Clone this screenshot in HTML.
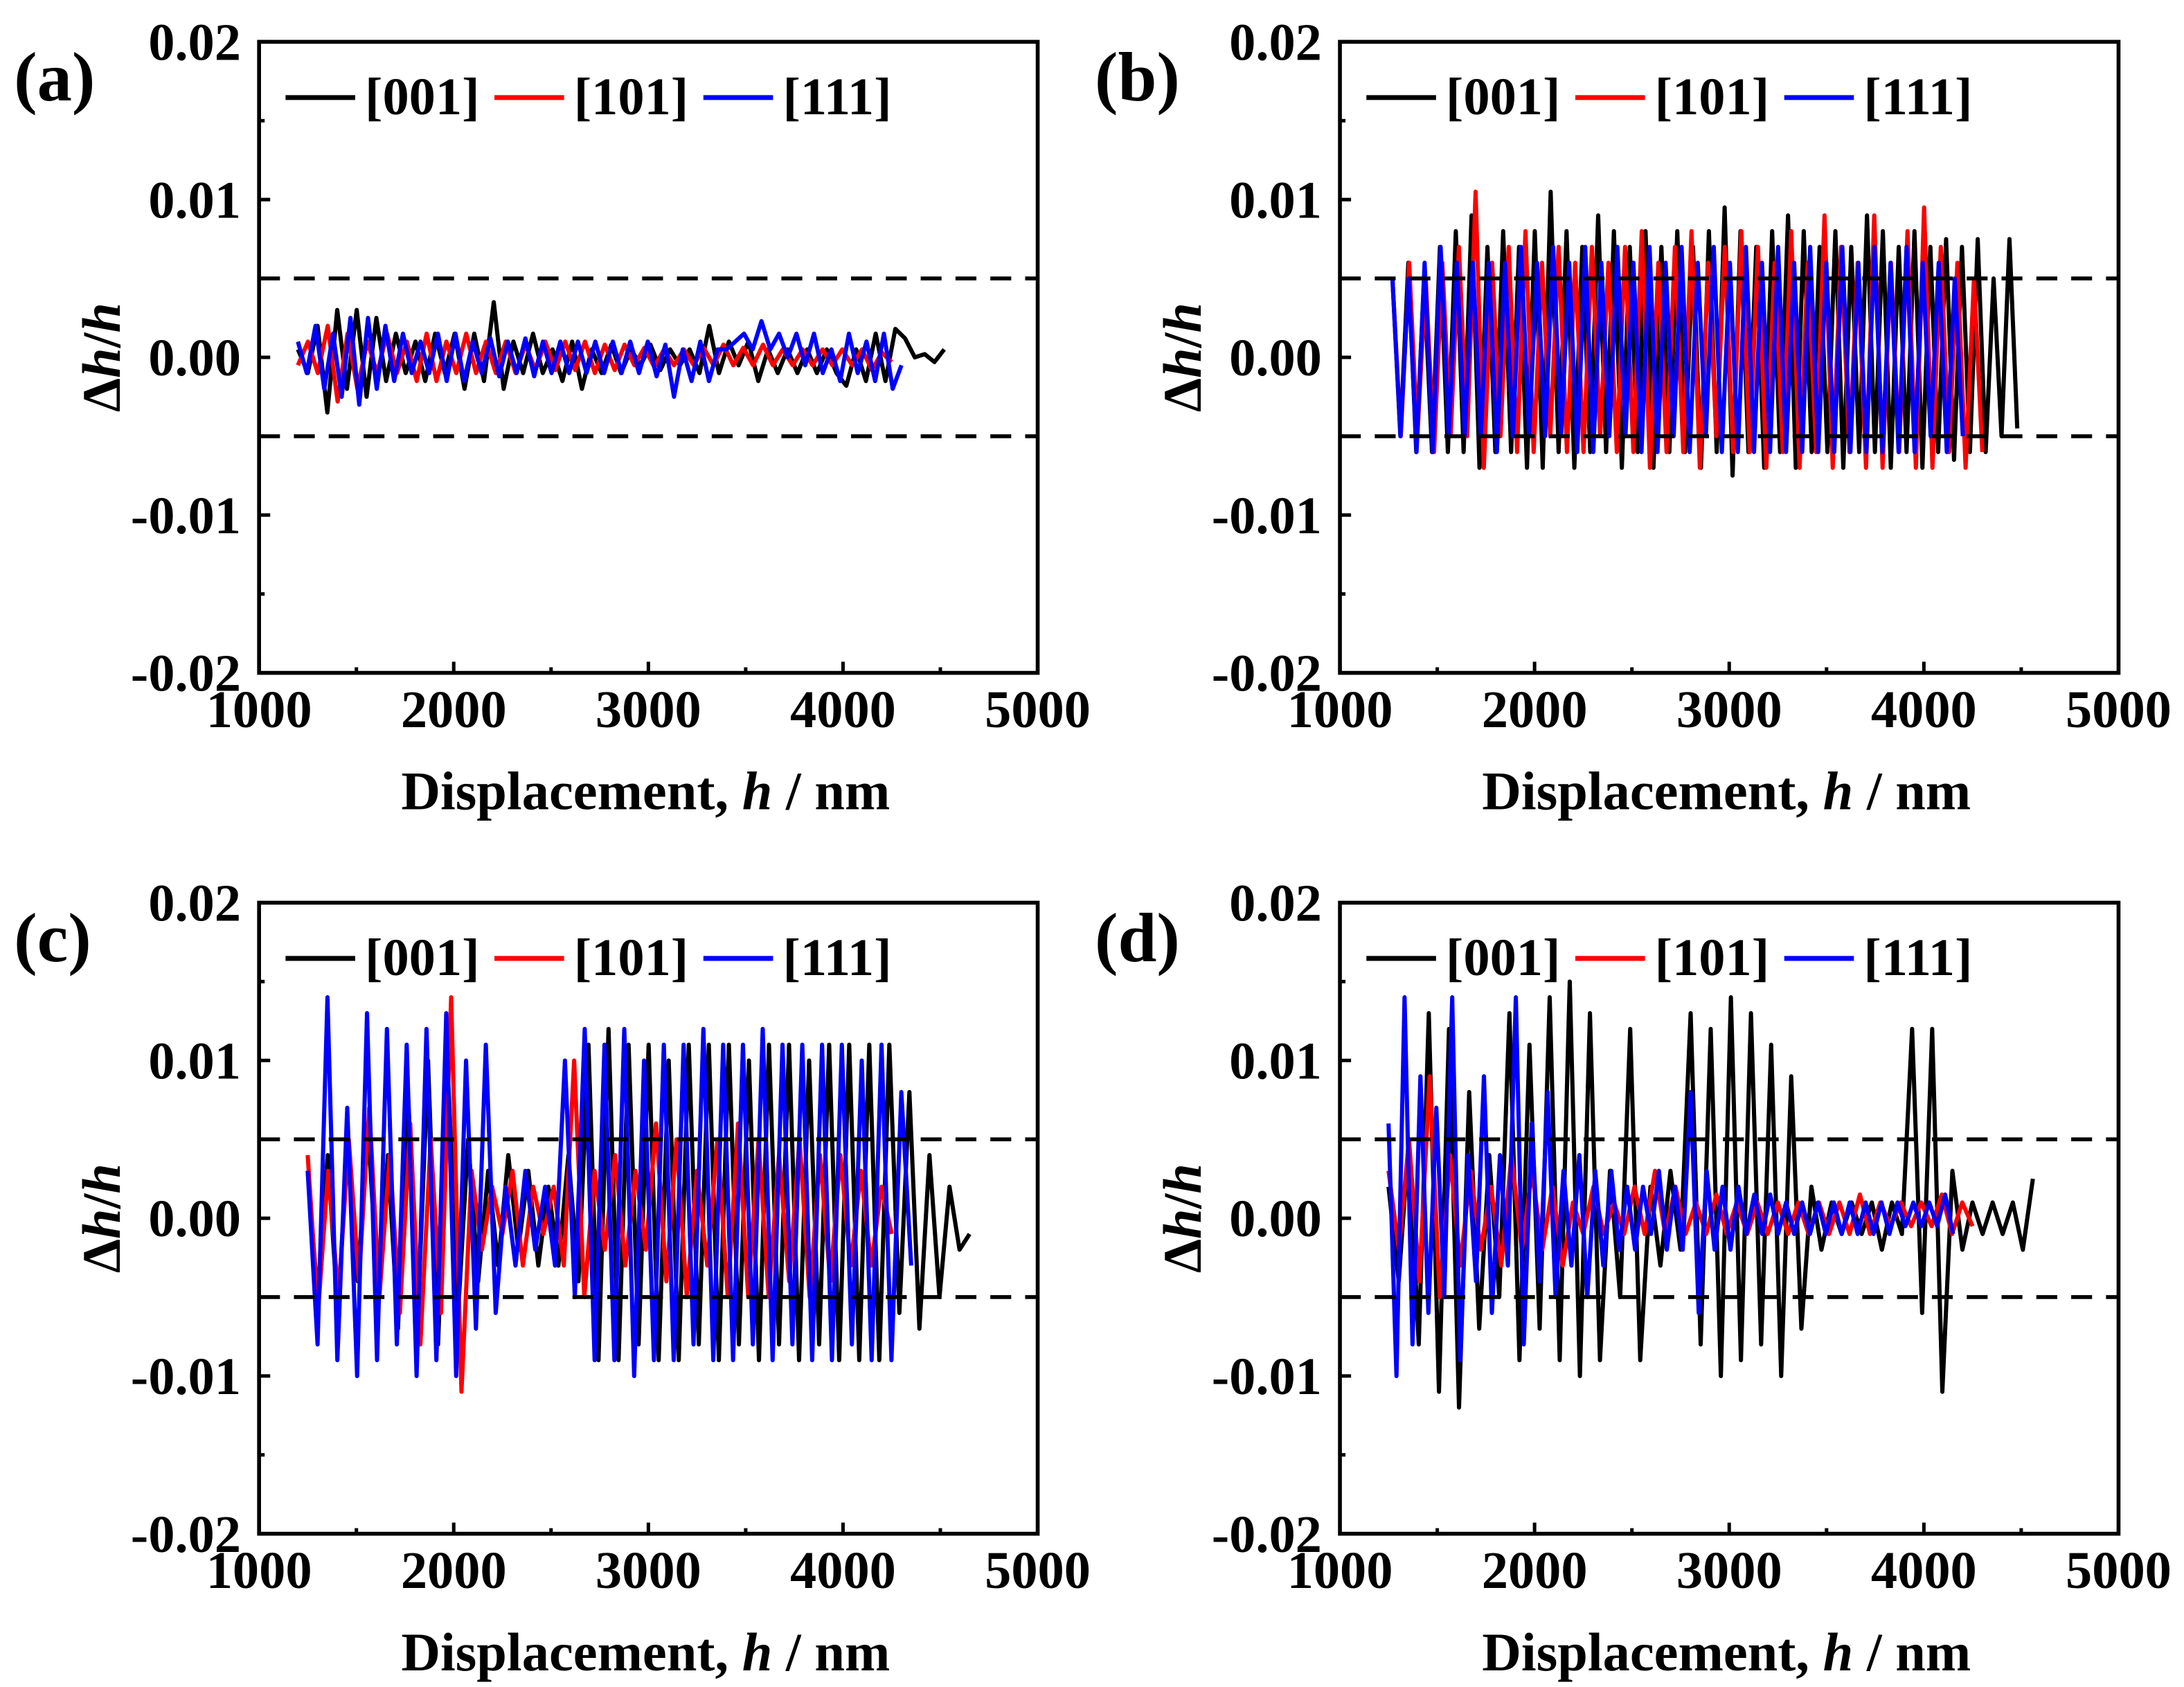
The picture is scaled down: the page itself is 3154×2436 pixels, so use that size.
<!DOCTYPE html>
<html><head><meta charset="utf-8"><style>
html,body{margin:0;padding:0;background:#fff}
svg{display:block}
text{font-family:"Liberation Serif",serif;font-weight:bold;fill:#000}
</style></head><body>
<svg id="fig" width="3154" height="2436" viewBox="0 0 1568 1211" xmlns="http://www.w3.org/2000/svg"></svg>
<script>
// shared axis data
const xTicks=[1000,2000,3000,4000,5000];
const yTicks=[-0.02,-0.01,0,0.01,0.02];
const yTickLabels=["-0.02","-0.01","0.00","0.01","0.02"];
const seriesNames=["[001]","[101]","[111]"];
const seriesColors=["#000","#f00","#00f"];
const panelLabels=["(a)","(b)","(c)","(d)"];
// values in units of 1e-3 ; x range [start nm, end nm]
const aBlackX=[1200,4520];
const aBlack=[0.5,-1,2,-3.5,3,-2,3,-2.5,2.5,-1.5,1.5,-1,1,-1.5,1.5,-1,1.5,-2,1.5,-1.5,3.5,-2,1,-1,1.5,-1,0.5,-1.5,1,-2,0.5,-1,0.8,-1,0.5,-0.5,0.8,-0.8,0.5,-0.5,0.5,-1,2,-1,1,-0.5,1,-1.5,0.5,-1,0.5,-1,0.5,-1,0.5,-1,-1.8,0.5,-1.5,1.5,-1.5,1.8,1.2,0,0.2,-0.3,0.5];
const aRedX=[1200,4250];
const aRed=[-0.5,1,-1,2,-2.8,1.5,-2,1,-1,1.5,-1,1,-1.5,1.5,-1.5,1,-1,1.5,-1,1,-1,1,-1,0.8,-0.8,1,-0.8,1,-0.8,1,-1,0.8,-0.8,0.8,-0.5,0.6,-0.6,0.5,-0.5,0.5,-0.5,0.6,-0.5,0.8,-0.5,0.6,-0.5,0.8,-0.5,0.5,-0.5,0.5,-0.5,0.5,-0.5,0.5,-0.5,0.5,-0.8,0.3,-0.3];
const aBlueX=[1200,4300];
const aBlue=[1,-1,2,-2,1.5,-2.5,2.5,-3,2.5,-2,2,-1.5,1.5,-1,1,-1,1.5,-1.5,1.5,-1.5,1,-1,1.2,-1.2,1,-1,1.2,-1.2,1,-1,1,-1,1,-1,1,-1,1,-1,1,-1,1,-1.2,0.8,-2.5,0.5,-1.5,1,-1.5,0.5,0.5,1,1.5,0.5,2.3,0.5,1.5,0,1.5,-0.5,1.5,-1,0.5,-1.5,1.5,-1,1,-1.5,1.5,-2,-0.5];
const bBlackX=[1270,4480];
const bBlack=[5,-5,6,-6,5,-6,7,-6,8,-6,9,-7,7,-6,8,-6,7,-7,8,-7,10.5,-6,8,-7,7,-6,9,-6,8,-7,7,-6,8,-7,7,-6,8,-6,7,-7,8,-6,9.5,-7.5,8,-6,7,-7,8,-6,9,-7,8,-6,7,-6,8,-7,7,-6,9,-6,8,-7,7,-6,8,-7,7,-6,7.5,-6.5,7,-6,7.5,-6,5,-5,7.5,-4.5];
const bRedX=[1270,4300];
const bRed=[5,-5,6,-5,5,-6,6,-5,7,-5,10.5,-7,6,-5,7,-6,8,-6,6,-5,7,-6,6,-6,7,-5,6,-6,7,-6,8,-7,6,-6,7,-6,8,-7,6,-5,7,-6,8,-6,7,-7,6,-6,8,-7,6,-6,9,-7,7,-6,6,-7,9,-7,6,-6,8,-7,9.5,-7,7,-6,6,-7,5,-6];
const bBlueX=[1270,4200];
const bBlue=[5,-5,5,-6,6,-6,7,-5,6,-5,6,-5,6,-6,6,-5,7,-5,6,-5,7,-5,6,-6,7,-6,6,-5,7,-5,6,-6,7,-6,6,-5,7,-6,6,-5,7,-6,6,-6,7,-6,6,-6,7,-6,6,-6,7,-6,6,-6,7,-6,6,-6,7,-6,6,-6,7,-6,6,-5,6,-6,5,-5];
const cBlackX=[1250,4650];
const cBlack=[3,-5,4,-6,5,-4,6,-5,4,-7,8,-6,10,-8,9,-6,5,-4,3,-3,4,-2,3,-3,2,-3,4,-4,11,-9,12,-9,11,-8,11,-9,10,-9,11,-8,11,-9,11,-8,10,-9,11,-8,11,-9,10,-8,11,-9,11,-9,11,-9,11,-6,8,-7,4,-5,2,-2,-1];
const cRedX=[1250,4250];
const cRed=[4,-6,3,-5,5,-4,7,-5,4,-6,6,-8,5,-6,14,-11,3,-2,2,-1,3,-3,2,-1,2,-3,10,-5,3,-2,4,-3,3,-2,6,-4,5,-5,3,-3,5,-5,6,-5,5,-5,4,-4,5,-5,4,-4,4,-3,3,-3,2,-1];
const cBlueX=[1250,4350];
const cBlue=[3,-8,14,-9,7,-10,13,-9,12,-8,11,-10,12,-9,13,-10,10,-7,11,-6,2,-3,3,-2,2,-3,10,-5,12,-9,11,-9,12,-10,10,-9,11,-9,11,-8,12,-9,11,-9,11,-8,12,-9,11,-8,11,-9,11,-9,11,-8,10,-9,11,-9,8,-3];
const dBlackX=[1250,4560];
const dBlack=[2,-4,5,-8,13,-11,12,-12,8,-7,4,-5,13,-9,11,-7,14,-9,15,-10,13,-9,3,-5,12,-9,2,-3,3,-2,13,-8,12,-10,14,-9,13,-8,11,-10,9,-7,2,-2,1,-1,1,-1,1,-2,1,-1,12,-6,12,-11,3,-2,1,-1,1,-1,1,-2,2.5];
const dRedX=[1250,4250];
const dRed=[3,-2,5,-4,9,-5,4,-3,3,-2,2,-3,4,-2,3,-2,2,-3,1,-1,2,-1,1,-1,2,-1,3,-1,2,-1,1,-1,1.5,-1,1,-1,1,-1,1,-1,1,-1,1,-1,1,-1,1.5,-1,1,-0.5,1,-0.5,1,-0.5,1.5,-1,1,-0.5];
const dBlueX=[1250,4150];
const dBlue=[6,-10,14,-8,9,-6,7,-5,14,-9,4,-4,9,-6,4,-3,14,-8,6,-4,8,-5,3,-3,4,-5,3,-3,3,-2,2,-2,2,-1,3,-2,2,-2,8,-6,3,-2,2,-2,2,-1,1.5,-1,1.5,-1,1,-1,1,-1,1,-1,1,-1,1,-1,1,-1,1,-1,1,-0.5,1,-0.5,1,-0.5,1.5,-1];
const panelSeries=[
 [[aBlackX,aBlack],[aRedX,aRed],[aBlueX,aBlue]],
 [[bBlackX,bBlack],[bRedX,bRed],[bBlueX,bBlue]],
 [[cBlackX,cBlack],[cRedX,cRed],[cBlueX,cBlue]],
 [[dBlackX,dBlack],[dRedX,dRed],[dBlueX,dBlue]]
];
const NS="http://www.w3.org/2000/svg";
const svg=document.getElementById('fig');
function mk(tag,attrs,parent){const e=document.createElementNS(NS,tag);for(const k in attrs)e.setAttribute(k,attrs[k]);(parent||svg).appendChild(e);return e;}
const boxes=[[186,30],[962,30],[186,648],[962,648]];
const W=559,H=453;
panelSeries.forEach((ser,p)=>{
 const [L,T]=boxes[p];
 const g=mk('g',{});
 
 
 const xs=v=>L+(v-1000)/4000*W;
 const ys=v=>T+H-(v+0.02)/0.04*H;
 ser.forEach((s,i)=>{
  const [xr,vals]=s;
  const step=(xr[1]-xr[0])/(vals.length-1);
  let d='';
  vals.forEach((v,k)=>{d+=(k?'L':'M')+xs(xr[0]+k*step).toFixed(1)+' '+ys(v/1000).toFixed(1);});
  const path=mk('path',{d:d,fill:'none',stroke:seriesColors[i],'stroke-width':3,'stroke-linejoin':'round'},g);
  
  
 });
 [0.005,-0.005].forEach(v=>{
  const l=mk('line',{x1:L,x2:L+W,y1:ys(v),y2:ys(v),stroke:'#000','stroke-width':2.8,'stroke-dasharray':'15 10'},g);
  
  
 });
 const fr=mk('rect',{x:L,y:T,width:W,height:H,fill:'none',stroke:'#000','stroke-width':2.8},g);
 
 
 xTicks.forEach(v=>{
  mk('line',{x1:xs(v),x2:xs(v),y1:T+H,y2:T+H-8,stroke:'#000','stroke-width':2.5},g);
  if(v<5000) mk('line',{x1:xs(v+500),x2:xs(v+500),y1:T+H,y2:T+H-4,stroke:'#000','stroke-width':2.5},g);
  const t=mk('text',{x:xs(v),y:T+H+39,'text-anchor':'middle','font-size':38},g);t.textContent=v;
  
  
 });
 yTicks.forEach((v,i)=>{
  mk('line',{x1:L,x2:L+8,y1:ys(v),y2:ys(v),stroke:'#000','stroke-width':2.5},g);
  if(v<0.02) mk('line',{x1:L,x2:L+4,y1:ys(v+0.005),y2:ys(v+0.005),stroke:'#000','stroke-width':2.5},g);
  const t=mk('text',{x:L-13,y:ys(v)+13,'text-anchor':'end','font-size':38},g);t.textContent=yTickLabels[i];
  
  
 });
 const xt=mk('text',{x:L+W/2-2,y:T+H+98,'text-anchor':'middle','font-size':39},g);
 xt.innerHTML='Displacement, <tspan font-style="italic">h</tspan> / nm';
 
 
 const yt=mk('text',{x:0,y:0,'text-anchor':'middle','font-size':39,transform:`translate(${L-100},${T+H/2}) rotate(-90)`},g);
 yt.innerHTML='Δ<tspan font-style="italic">h</tspan>/<tspan font-style="italic">h</tspan>';
 
 
 const pl=mk('text',{x:L-176,y:T+42,'font-size':50},g);pl.textContent=panelLabels[p];
 
 
 seriesNames.forEach((n,i)=>{
  const lx=L+19+i*150;
  const ln=mk('line',{x1:lx,x2:lx+50,y1:T+40,y2:T+40,stroke:seriesColors[i],'stroke-width':3.5},g);
  
  
  const t=mk('text',{x:lx+57,y:T+52,'font-size':38},g);t.textContent=n;
  
  
 });
});
</script>
</body></html>
